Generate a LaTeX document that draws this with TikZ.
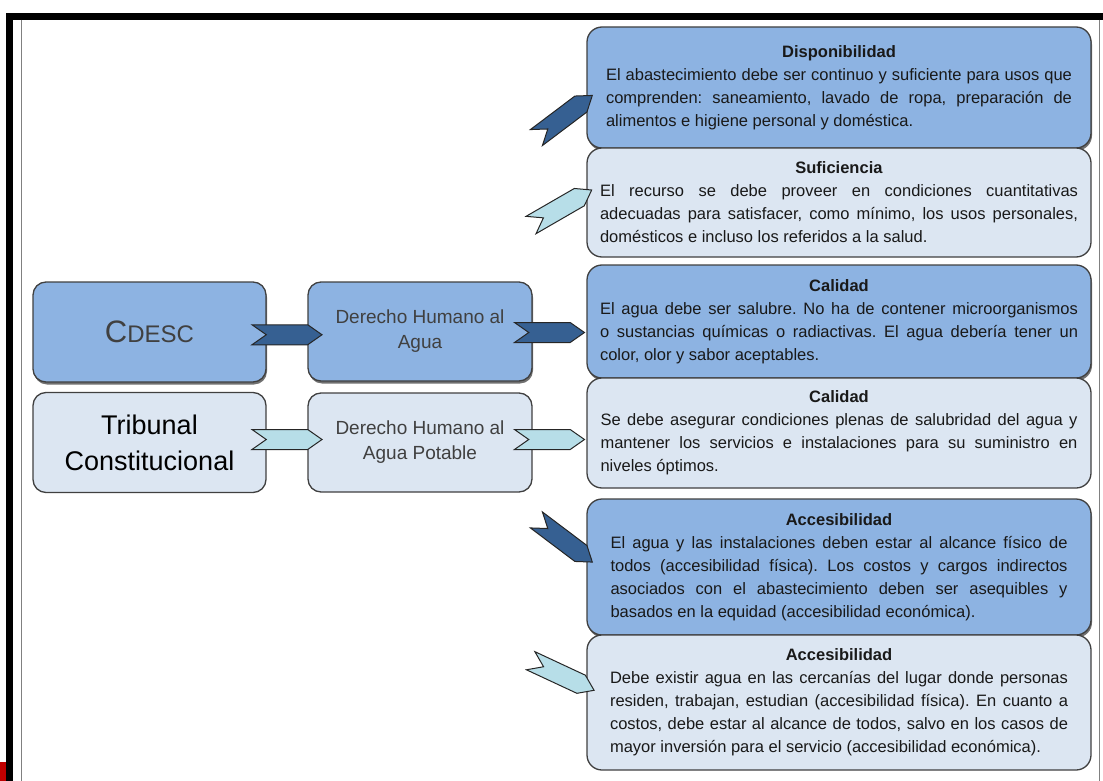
\documentclass[tikz,border=0pt]{standalone}
\usepackage{fontspec}
\setmainfont{Liberation Sans}
\usetikzlibrary{positioning,calc,shapes.symbols,shadows}

\definecolor{azulmedio}{RGB}{141,179,226}
\definecolor{azulclaro}{RGB}{220,230,242}
\definecolor{flechaoscura}{RGB}{54,96,146}
\definecolor{flechaclara}{RGB}{183,222,232}
\definecolor{bordegris}{RGB}{64,64,64}
\definecolor{textogris}{RGB}{64,64,64}
\setlength{\parindent}{0pt}
\tolerance=9999
\hyphenpenalty=10000
\frenchspacing

\begin{document}
\begin{tikzpicture}[x=1pt,y=-1pt,
    caja/.style={draw=bordegris, line width=1.3pt, rounded corners=13pt, inner sep=0pt},
    origen/.style={caja, minimum width=233pt, minimum height=100pt, align=center},
    derecho/.style={caja, minimum width=224pt, minimum height=99pt, align=center, text=textogris, font=\fontsize{19}{25}\selectfont},
    detalle/.style={caja, rounded corners=15pt, minimum width=504pt, align=justify, text=black!90, font=\fontsize{16.5}{23}\selectfont},
    oscura/.style={fill=azulmedio, drop shadow={shadow xshift=1pt, shadow yshift=-2.5pt, fill=black!70, opacity=0.8}},
    clara/.style={fill=azulclaro},
    chevron/.style={signal, signal from=west, signal to=east, signal pointer angle=70, draw=black!85, line width=1pt, minimum width=70pt, minimum height=20pt, inner sep=0pt},
]
    \useasboundingbox (0,0) rectangle (1103,781);

    % Frame
    \fill[black] (6,13) rectangle (1103,20);
    \fill[black] (6,13) rectangle (13,781);
    \draw[gray, line width=1pt] (21.5,20) -- (21.5,781);
    \draw[gray, line width=1pt] (1099,20) -- (1099,781);
    \fill[red!75!black] (0,762) rectangle (6,781);

    % Sources
    \node[origen, oscura, text=textogris] (cdesc) at (149.5,332) {{\fontsize{31}{31}\selectfont C}{\fontsize{24}{24}\selectfont DESC}};
    \node[origen, clara, font=\fontsize{27}{36}\selectfont] (tc) at (149.5,442.5) {Tribunal\\Constitucional};

    % Rights
    \node[derecho, oscura] (dha) at (420,331.5) {Derecho Humano al\\Agua};
    \node[derecho, clara] (dhp) at (420,442.5) {Derecho Humano al\\Agua Potable};

    % Contents of the right
    \node[detalle, oscura, text width=466pt, minimum height=121pt] (disp) at (839,87.5) {{\centering\textbf{Disponibilidad}\par}
        El abastecimiento debe ser continuo y suficiente para usos que\linebreak
        comprenden: saneamiento, lavado de ropa, preparación de\linebreak
        alimentos e higiene personal y doméstica.};
    \node[detalle, clara, text width=478pt, minimum height=109pt] (suf) at (839,202.5) {{\centering\textbf{Suficiencia}\par}
        El recurso se debe proveer en condiciones cuantitativas\linebreak
        adecuadas para satisfacer, como mínimo, los usos personales,\linebreak
        domésticos e incluso los referidos a la salud.};
    \node[detalle, oscura, text width=478pt, minimum height=113pt] (cal1) at (839,321.5) {{\centering\textbf{Calidad}\par}
        El agua debe ser salubre. No ha de contener microorganismos\linebreak
        o sustancias químicas o radiactivas. El agua debería tener un\linebreak
        color, olor y sabor aceptables.};
    \node[detalle, clara, text width=477pt, minimum height=110pt] (cal2) at (839,433) {{\centering\textbf{Calidad}\par}
        Se debe asegurar condiciones plenas de salubridad del agua y\linebreak
        mantener los servicios e instalaciones para su suministro en\linebreak
        niveles óptimos.};
    \node[detalle, oscura, text width=457pt, minimum height=136pt] (acc1) at (839,567) {{\centering\textbf{Accesibilidad}\par}
        El agua y las instalaciones deben estar al alcance físico de\linebreak
        todos (accesibilidad física). Los costos y cargos indirectos\linebreak
        asociados con el abastecimiento deben ser asequibles y\linebreak
        basados en la equidad (accesibilidad económica).};
    \node[detalle, clara, text width=458pt, minimum height=135pt] (acc2) at (839,702.5) {{\centering\textbf{Accesibilidad}\par}
        Debe existir agua en las cercanías del lugar donde personas\linebreak
        residen, trabajan, estudian (accesibilidad física). En cuanto a\linebreak
        costos, debe estar al alcance de todos, salvo en los casos de\linebreak
        mayor inversión para el servicio (accesibilidad económica).};

    % Chevrons between the boxes
    \node[chevron, fill=flechaoscura] (c1) at ($(cdesc.east)!0.5!(dha.west)+(0,3)$) {};
    \node[chevron, fill=flechaclara] (c2) at ($(tc.east)!0.5!(dhp.west)+(0,-3)$) {};
    \node[chevron, fill=flechaoscura, anchor=east] (c3) at ($(cal1.west |- dha.east)+(-1,1)$) {};
    \node[chevron, fill=flechaclara, anchor=east] (c4) at ($(cal2.west |- dhp.east)+(-1,-3)$) {};

    % Chevrons into the contents
    \node[chevron, fill=flechaoscura, rotate=37] (d1) at ($(disp.west)+(-22,29)$) {};
    \node[chevron, fill=flechaclara, rotate=30] (d2) at ($(suf.west)+(-25,5)$) {};
    \node[chevron, fill=flechaoscura, rotate=-37] (d3) at ($(acc1.west)+(-22,-26)$) {};
    \node[chevron, fill=flechaclara, rotate=-25] (d4) at ($(acc2.west)+(-24,-27)$) {};
\end{tikzpicture}
\end{document}
